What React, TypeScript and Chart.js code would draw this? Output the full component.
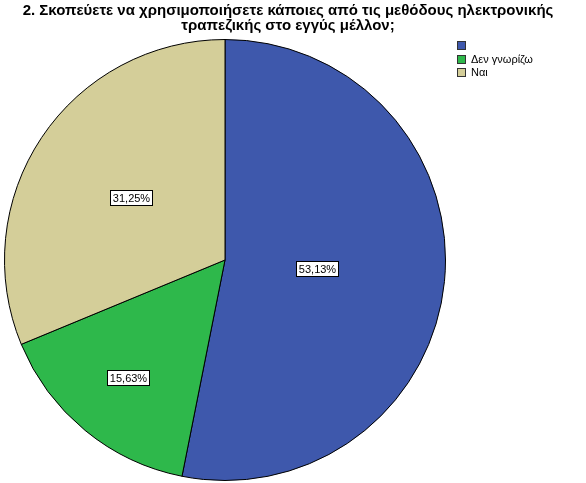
import { useEffect, useRef } from 'react';
import { Chart, ArcElement, PieController, type Plugin } from 'chart.js';

Chart.register(ArcElement, PieController);

const TITLE_LINES = [
  '2. Σκοπεύετε να χρησιμοποιήσετε κάποιες από τις μεθόδους ηλεκτρονικής',
  'τραπεζικής στο εγγύς μέλλον;',
];
const CATEGORIES = ['', 'Δεν γνωρίζω', 'Ναι'];
const PERCENTS = [53.13, 15.63, 31.25];
const COLORS = ['#3e58ac', '#2eb84b', '#d4ce99'];

// how far along the radius each value box sits (SPSS places them unevenly)
const LABEL_RADIUS = [0.42, 0.69, 0.51];
const FONT = '"Liberation Sans", Arial, sans-serif';

const decorations: Plugin<'pie'> = {
  id: 'decorations',
  beforeDraw(chart) {
    const { ctx, width, height } = chart;
    ctx.save();
    ctx.fillStyle = '#fff';
    ctx.fillRect(0, 0, width, height);
    ctx.fillStyle = '#000';
    ctx.font = `bold 15px ${FONT}`;
    ctx.textAlign = 'center';
    ctx.textBaseline = 'alphabetic';
    TITLE_LINES.forEach((line, i) => ctx.fillText(line, 288, 15 + i * 15));
    ctx.restore();
  },
  afterDatasetsDraw(chart) {
    const { ctx } = chart;
    const meta = chart.getDatasetMeta(0);
    ctx.save();
    ctx.font = `11px ${FONT}`;
    ctx.textAlign = 'center';
    ctx.textBaseline = 'middle';
    meta.data.forEach((el, i) => {
      const { x, y, startAngle, endAngle, outerRadius } = el.getProps(
        ['x', 'y', 'startAngle', 'endAngle', 'outerRadius'],
        true,
      ) as any;
      const mid = (startAngle + endAngle) / 2;
      const r = outerRadius * LABEL_RADIUS[i];
      const px = x + Math.cos(mid) * r;
      const py = y + Math.sin(mid) * r;
      const text = PERCENTS[i].toFixed(2).replace('.', ',') + '%';
      const bw = Math.round(ctx.measureText(text).width + 6);
      const bh = 16;
      const bx = Math.round(px - bw / 2);
      const by = Math.round(py - bh / 2);
      ctx.fillStyle = '#fff';
      ctx.fillRect(bx, by, bw, bh);
      ctx.strokeStyle = '#000';
      ctx.lineWidth = 1;
      ctx.strokeRect(bx + 0.5, by + 0.5, bw - 1, bh - 1);
      ctx.fillStyle = '#000';
      ctx.fillText(text, bx + bw / 2, by + bh / 2 + 1);
    });

    // legend
    ctx.textAlign = 'left';
    CATEGORIES.forEach((label, i) => {
      const top = 41 + i * 13.5;
      ctx.fillStyle = COLORS[i];
      ctx.fillRect(457, Math.round(top), 9, 9);
      ctx.strokeStyle = '#333';
      ctx.strokeRect(457.5, Math.round(top) + 0.5, 8, 8);
      ctx.fillStyle = '#000';
      ctx.fillText(label, 471, Math.round(top) + 5);
    });
    ctx.restore();
  },
};

export default function App() {
  const canvasRef = useRef<HTMLCanvasElement>(null);
  const chartRef = useRef<Chart<'pie'> | null>(null);

  useEffect(() => {
    if (!canvasRef.current) return;
    if (chartRef.current) chartRef.current.destroy();

    chartRef.current = new Chart(canvasRef.current, {
      type: 'pie',
      data: {
        labels: CATEGORIES,
        datasets: [{
          data: PERCENTS,
          backgroundColor: COLORS,
          borderColor: '#000',
          borderWidth: 1,
        }],
      },
      options: {
        responsive: false,
        animation: false,
        layout: { padding: { top: 39, bottom: 2, left: 4, right: 140 } },
        plugins: {
          legend: { display: false },
          tooltip: { enabled: false },
        },
      },
      plugins: [decorations],
    });

    return () => chartRef.current?.destroy();
  }, []);

  return (
    <div style={{ position: 'fixed', top: 0, left: 0, width: 586, height: 483, background: '#fff' }}>
      <canvas ref={canvasRef} width={586} height={483} />
    </div>
  );
}
